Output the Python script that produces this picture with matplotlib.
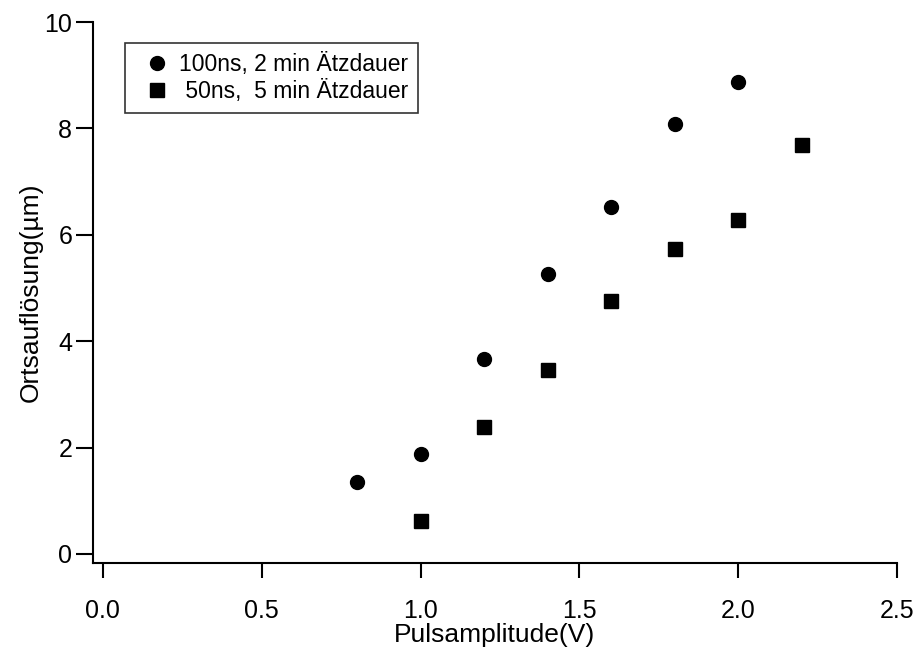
import matplotlib
matplotlib.use("Agg")
import matplotlib.pyplot as plt

plt.rcParams['font.family'] = ['Liberation Sans', 'DejaVu Sans']

x_circle = [0.8, 1.0, 1.2, 1.4, 1.6, 1.8, 2.0]
y_circle = [1.35, 1.87, 3.66, 5.26, 6.53, 8.08, 8.87]
x_square = [1.0, 1.2, 1.4, 1.6, 1.8, 2.0, 2.2]
y_square = [0.62, 2.38, 3.45, 4.75, 5.74, 6.27, 7.68]
label_circle = "100ns, 2 min Ätzdauer"
label_square = " 50ns,  5 min Ätzdauer"
xticks = [0.0, 0.5, 1.0, 1.5, 2.0, 2.5]
yticks = [0, 2, 4, 6, 8, 10]

fig = plt.figure(figsize=(9.2, 6.47), dpi=100)
ax = fig.add_axes([93/920, 1-563/647, (897-93)/920, (563-22)/647])
ax.plot(x_circle, y_circle, 'o', color='black', markersize=10, label=label_circle)
ax.plot(x_square, y_square, 's', color='black', markersize=10, label=label_square)
ax.set_xlim(-0.031, 2.5)
ax.set_ylim(-0.17, 10)
ax.set_xticks(xticks)
ax.set_xticklabels([f"{v:.1f}" for v in xticks])
ax.set_yticks(yticks)
for s in ['top', 'right']:
    ax.spines[s].set_visible(False)
for s in ['left', 'bottom']:
    ax.spines[s].set_linewidth(1.5)
ax.tick_params(axis='x', direction='out', length=11, width=1.5, labelsize=18, pad=15)
ax.tick_params(axis='y', direction='out', length=12, width=1.5, labelsize=18, pad=3)
ax.set_xlabel("Pulsamplitude(V)", fontsize=19, labelpad=0)
ax.set_ylabel("Ortsauflösung(µm)", fontsize=19, labelpad=1)
leg = ax.legend(loc='upper left', bbox_to_anchor=((125-93)/804, 1-(43-22)/541),
                fontsize=16.5, frameon=True, fancybox=False, edgecolor='black',
                handletextpad=0.0, borderpad=0.45, labelspacing=0.15, handlelength=1.9,
                borderaxespad=0, markerscale=1.0)
leg.get_frame().set_linewidth(1.2)
fig.savefig("out.png", dpi=100)
